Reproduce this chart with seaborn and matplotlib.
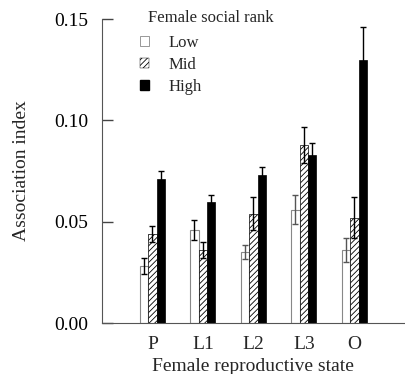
import matplotlib
matplotlib.use("Agg")
import matplotlib.pyplot as plt
import seaborn as sns
import pandas as pd
import numpy as np
from matplotlib.patches import Patch

states = ["P", "L1", "L2", "L3", "O"]
ranks = ["Low", "Mid", "High"]
low = [0.028, 0.046, 0.035, 0.056, 0.036]
mid = [0.044, 0.036, 0.054, 0.088, 0.052]
high = [0.071, 0.060, 0.073, 0.083, 0.130]
low_err = [0.004, 0.005, 0.0035, 0.007, 0.006]
mid_err = [0.004, 0.004, 0.008, 0.009, 0.010]
high_err = [0.004, 0.003, 0.004, 0.006, 0.016]

sns.set_style("white")
plt.rcParams['font.family'] = ['Liberation Serif', 'DejaVu Serif']
plt.rcParams['hatch.linewidth'] = 0.6
plt.rcParams['ytick.left'] = True
plt.rcParams['ytick.direction'] = 'in'

rows = []
for i, s in enumerate(states):
    for r, vals in zip(ranks, [low, mid, high]):
        rows.append({"state": s, "rank": r, "value": vals[i]})
df = pd.DataFrame(rows)

fig = plt.figure(figsize=(4.06, 3.74), dpi=100)
ax = fig.add_axes([0.251, 0.136, 0.746, 0.813])
sns.barplot(data=df, x="state", y="value", hue="rank", order=states,
            hue_order=ranks, errorbar=None, width=0.5, ax=ax,
            palette=["white", "white", "black"], saturation=1, legend=False)

styles = {
    "Low": dict(fc="white", ec="#888888", hatch=None, lw=0.8),
    "Mid": dict(fc="white", ec="black", hatch="//////", lw=0.5),
    "High": dict(fc="black", ec="black", hatch=None, lw=0.5),
}
errs = {"Low": low_err, "Mid": mid_err, "High": high_err}
vals_d = {"Low": low, "Mid": mid, "High": high}
for cont, r in zip(ax.containers, ranks):
    st = styles[r]
    for j, p in enumerate(cont.patches):
        p.set_facecolor(st["fc"])
        p.set_edgecolor(st["ec"])
        p.set_linewidth(st["lw"])
        if st["hatch"]:
            p.set_hatch(st["hatch"])
        xc = p.get_x() + p.get_width() / 2
        ecol = "black" if r != "Low" or j in (0, 1) else "#555555"
        ax.errorbar(xc, vals_d[r][j], yerr=errs[r][j], fmt="none",
                    ecolor=ecol, elinewidth=1.0, capsize=2.5, capthick=1.0)

ax.set_xlim(-1, 5)
ax.set_ylim(0, 0.15)
ax.set_yticks([0, 0.05, 0.10, 0.15])
ax.set_yticklabels(["0.00", "0.05", "0.10", "0.15"])
ax.tick_params(axis="y", which="major", direction="in", length=8, width=1.0,
               color="#444444", labelcolor="black", labelsize=14, pad=10,
               left=True)
ax.tick_params(axis="x", length=0, labelsize=14, pad=9)
for side in ["top", "right"]:
    ax.spines[side].set_visible(False)
for side in ["left", "bottom"]:
    ax.spines[side].set_color("#555555")
    ax.spines[side].set_linewidth(0.8)
ax.set_xlabel("Female reproductive state", fontsize=14, labelpad=4)
ax.set_ylabel("Association index", fontsize=14, labelpad=17)

hs = [Patch(fc="white", ec="#888888", lw=0.6),
      Patch(fc="white", ec="black", hatch="//////", lw=0.3),
      Patch(fc="black", ec="black")]
fig.text(148 / 406, 1 - 18 / 374, "Female social rank", fontsize=12,
         ha="left", va="center")
leg = fig.legend(hs, ranks, loc="upper left",
                 bbox_to_anchor=(140 / 406, 1 - 35 / 374), frameon=False,
                 fontsize=12, handlelength=0.55,
                 handleheight=0.55, handletextpad=1.15, labelspacing=0.35,
                 borderpad=0, borderaxespad=0)

fig.savefig("out.png", dpi=100)
